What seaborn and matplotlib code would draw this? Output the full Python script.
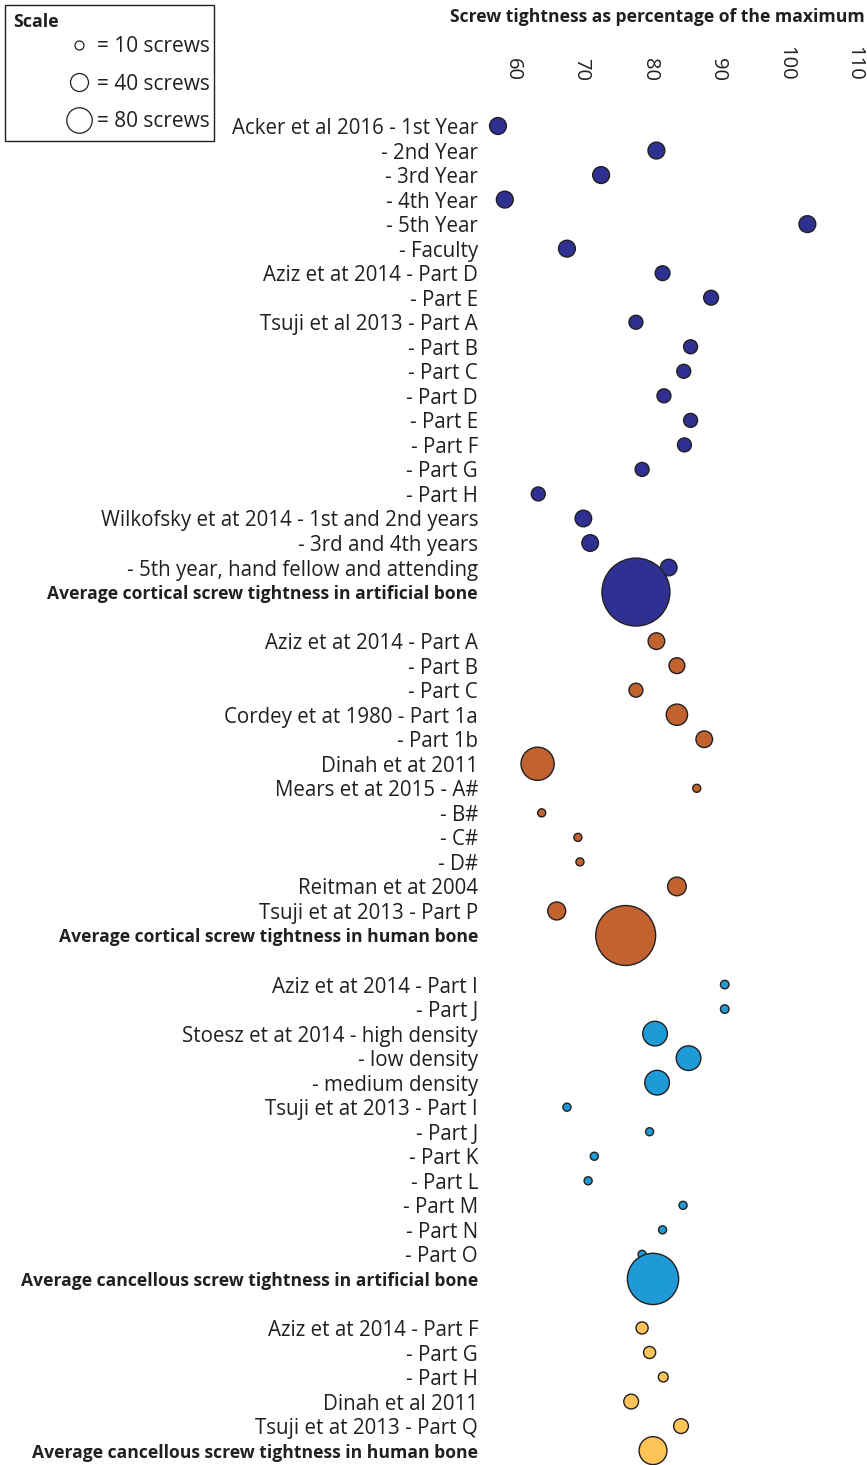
import numpy as np
import pandas as pd
import seaborn as sns
import matplotlib.pyplot as plt
from matplotlib.lines import Line2D
from matplotlib.patches import Rectangle

# cortical screws, artificial bone
cort_art_labels = [
    "Acker et al 2016 - 1st Year", "- 2nd Year", "- 3rd Year", "- 4th Year",
    "- 5th Year", "- Faculty", "Aziz et at 2014 - Part D", "- Part E",
    "Tsuji et al 2013 - Part A", "- Part B", "- Part C", "- Part D",
    "- Part E", "- Part F", "- Part G", "- Part H",
    "Wilkofsky et at 2014 - 1st and 2nd years", "- 3rd and 4th years",
    "- 5th year, hand fellow and attending",
    "Average cortical screw tightness in artificial bone",
]
cort_art_values = [57.8, 81.0, 72.9, 58.8, 103.1, 67.9, 81.9, 89.0, 78.0, 86.0,
                   85.0, 82.1, 86.0, 85.1, 78.9, 63.7, 70.3, 71.3, 82.8, 78.0]
cort_art_screws = [35, 35, 35, 35, 35, 35, 27, 27, 24, 24,
                   24, 24, 24, 24, 24, 24, 34, 34, 34, 570]

# cortical screws, human bone
cort_hum_labels = [
    "Aziz et at 2014 - Part A", "- Part B", "- Part C",
    "Cordey et at 1980 - Part 1a", "- Part 1b", "Dinah et at 2011",
    "Mears et at 2015 - A#", "- B#", "- C#", "- D#", "Reitman et at 2004",
    "Tsuji et at 2013 - Part P",
    "Average cortical screw tightness in human bone",
]
cort_hum_values = [81.0, 84.0, 78.0, 84.0, 88.0, 63.6, 86.9, 64.2, 69.5, 69.8,
                   84.0, 66.4, 76.5]
cort_hum_screws = [34, 31, 24, 56, 34, 136, 8, 8, 8, 8, 43, 40, 443]

# cancellous screws, artificial bone
canc_art_labels = [
    "Aziz et at 2014 - Part I", "- Part J", "Stoesz et at 2014 - high density",
    "- low density", "- medium density", "Tsuji et at 2013 - Part I",
    "- Part J", "- Part K", "- Part L", "- Part M", "- Part N", "- Part O",
    "Average cancellous screw tightness in artificial bone",
]
canc_art_values = [91.0, 91.0, 80.8, 85.7, 81.1, 67.9, 80.0, 71.9, 71.0, 84.9,
                   81.9, 78.9, 80.5]
canc_art_screws = [9, 9, 75, 75, 75, 8, 8, 8, 8, 8, 8, 8, 324]

# cancellous screws, human bone
canc_hum_labels = [
    "Aziz et at 2014 - Part F", "- Part G", "- Part H", "Dinah et al 2011",
    "Tsuji et at 2013 - Part Q",
    "Average cancellous screw tightness in human bone",
]
canc_hum_values = [78.9, 80.0, 82.0, 77.3, 84.6, 80.5]
canc_hum_screws = [18, 18, 12, 27, 27, 96]

group_names = ["cort_art", "cort_hum", "canc_art", "canc_hum"]
group_colors = {"cort_art": "#2E3192", "cort_hum": "#C1622F",
                "canc_art": "#1E9AD6", "canc_hum": "#FEC457"}

xticks = [60, 70, 80, 90, 100, 110]
scale_screws = [10, 40, 80]

groups = [
    (cort_art_labels, cort_art_values, cort_art_screws),
    (cort_hum_labels, cort_hum_values, cort_hum_screws),
    (canc_art_labels, canc_art_values, canc_art_screws),
    (canc_hum_labels, canc_hum_values, canc_hum_screws),
]

frames = []
row = 0
for name, (labs, vals, ns) in zip(group_names, groups):
    frames.append(pd.DataFrame({
        "label": labs, "value": vals, "screws": ns, "group": name,
        "row": np.arange(row, row + len(labs)),
    }))
    row += len(labs) + 1  # blank line between groups
df = pd.concat(frames, ignore_index=True)

# marker area in pt^2 per screw
K = 4.2
N_MAX = 600
INK = "#231F20"

sns.set_style("white")
plt.rcParams["font.family"] = ["Open Sans", "DejaVu Sans"]

W, H = 867, 1465
fig = plt.figure(figsize=(W / 100, H / 100), dpi=100)
ax = fig.add_axes([485 / W, 0, (W - 485) / W, 1 - 100 / H])

sns.scatterplot(
    data=df, x="value", y="row", hue="group", palette=group_colors,
    size="screws", sizes=(0, N_MAX * K), size_norm=(0, N_MAX),
    edgecolor=INK, linewidth=1.0, alpha=1, legend=False,
    clip_on=False, ax=ax,
)

px = 6.83  # pixels per unit on x
ax.set_xlim(60 - (513 - 485) / px, 60 + (W - 513) / px)
dy = 24.53
ax.set_ylim((H - 126) / dy, -(126 - 100) / dy)

ax.xaxis.tick_top()
ax.set_xticks(xticks)
ax.set_xticklabels([str(t) for t in xticks], rotation=-90, fontsize=14.5,
                   color=INK)
ax.tick_params(axis="x", length=0, pad=14)

ax.set_yticks(df["row"])
ax.set_yticklabels(df["label"], color=INK)
ax.tick_params(axis="y", length=0, pad=5)
for lab, txt in zip(ax.get_yticklabels(), df["label"]):
    if txt.startswith("Average"):
        lab.set_fontweight("bold")
        lab.set_fontsize(12.6)
    else:
        lab.set_fontsize(14.8)

ax.set_xlabel("")
ax.set_ylabel("")
ax.grid(False)
sns.despine(ax=ax, left=True, bottom=True, top=True, right=True)

fig.text(865 / W, 1 - 17 / H, "Screw tightness as percentage of the maximum",
         ha="right", va="center", fontsize=12.6, fontweight="bold", color=INK)

# size key
fig.patches.append(Rectangle((5 / W, 1 - 141 / H), 209 / W, 136 / H,
                             transform=fig.transFigure, fill=False,
                             edgecolor=INK, linewidth=1.0))
fig.text(13 / W, 1 - 22 / H, "Scale", ha="left", va="center", fontsize=12.8,
         fontweight="bold", color=INK)
handles = [
    Line2D([], [], marker="o", linestyle="", markerfacecolor="white",
           markeredgecolor=INK, markeredgewidth=0.9,
           markersize=np.sqrt(n * K))
    for n in scale_screws
]
leg = fig.legend(
    handles, [f"= {n} screws" for n in scale_screws],
    loc="upper left", bbox_to_anchor=(62 / W, 1 - 36 / H), fontsize=15,
    frameon=False, labelspacing=0.8, handletextpad=0.08,
    borderpad=0, handlelength=1.6, borderaxespad=0,
)
for t in leg.get_texts():
    t.set_color(INK)

fig.savefig("out.png", dpi=100)
